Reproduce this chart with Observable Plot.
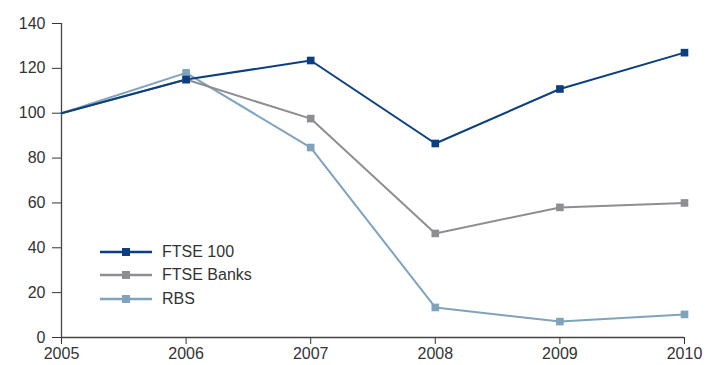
<!DOCTYPE html>
<html>
<head>
<meta charset="utf-8">
<script src="https://cdn.jsdelivr.net/npm/d3@7"></script>
<script src="https://cdn.jsdelivr.net/npm/@observablehq/plot@0.6"></script>
<style>
  html, body { margin: 0; padding: 0; background: #fff; }
  #wrap { position: relative; width: 707px; height: 365px; font-family: "Liberation Sans", Arial, sans-serif; }
  #legend { position: absolute; left: 100px; top: 240px; font-size: 16px; color: #333; }
  .row { display: flex; align-items: center; height: 23.5px; }
  .row svg { margin-right: 10px; }
</style>
</head>
<body>
<div id="wrap"></div>
<script>
const years = [2005, 2006, 2007, 2008, 2009, 2010];
const seriesNames = ["FTSE 100", "FTSE Banks", "RBS"];
const ftse100 = [100, 115, 123.5, 86.5, 110.8, 127];
const ftseBanks = [100, 115, 97.6, 46.4, 58, 60];
const rbs = [100, 118, 84.7, 13.4, 7.1, 10.3];
const colors = ["#0b3f80", "#8e8e92", "#7fa3bd"];
const yTicks = [0, 20, 40, 60, 80, 100, 120, 140];

const values = [ftse100, ftseBanks, rbs];
const data = [];
seriesNames.forEach((s, i) => years.forEach((y, j) => data.push({series: s, year: y, value: values[i][j]})));
// draw RBS first, FTSE 100 on top
const order = ["RBS", "FTSE Banks", "FTSE 100"];
const sorted = order.flatMap(s => data.filter(d => d.series === s));

const chart = Plot.plot({
  width: 707,
  height: 365,
  marginLeft: 61,
  marginRight: 23,
  marginTop: 23,
  marginBottom: 28,
  style: {fontFamily: "Liberation Sans, Arial, sans-serif", fontSize: "16px", color: "#333", background: "#fff"},
  x: {domain: [2005, 2010], ticks: years, tickFormat: "d", label: null, tickSize: 7, tickPadding: 3},
  y: {domain: [0, 140], ticks: yTicks, label: null, tickSize: 9, tickPadding: 7},
  color: {domain: seriesNames, range: colors},
  marks: [
    Plot.ruleX([2005], {y1: 0, y2: 140, stroke: "#444", strokeWidth: 1.3}),
    Plot.ruleY([0], {stroke: "#444", strokeWidth: 1.3}),
    Plot.line(sorted, {x: "year", y: "value", z: "series", stroke: "series", strokeWidth: 2}),
    Plot.dot(sorted.filter(d => d.year !== 2005), {x: "year", y: "value", fill: "series", symbol: "square", r: 4.3, stroke: null})
  ]
});
document.getElementById("wrap").appendChild(chart);

const legend = document.createElement("div");
legend.id = "legend";
seriesNames.forEach((s, i) => {
  const row = document.createElement("div");
  row.className = "row";
  row.innerHTML = `<svg width="52" height="10"><line x1="0" y1="5" x2="52" y2="5" stroke="${colors[i]}" stroke-width="2.5"/><rect x="22" y="1" width="8" height="8" fill="${colors[i]}"/></svg><span>${s}</span>`;
  legend.appendChild(row);
});
document.getElementById("wrap").appendChild(legend);
</script>
</body>
</html>
